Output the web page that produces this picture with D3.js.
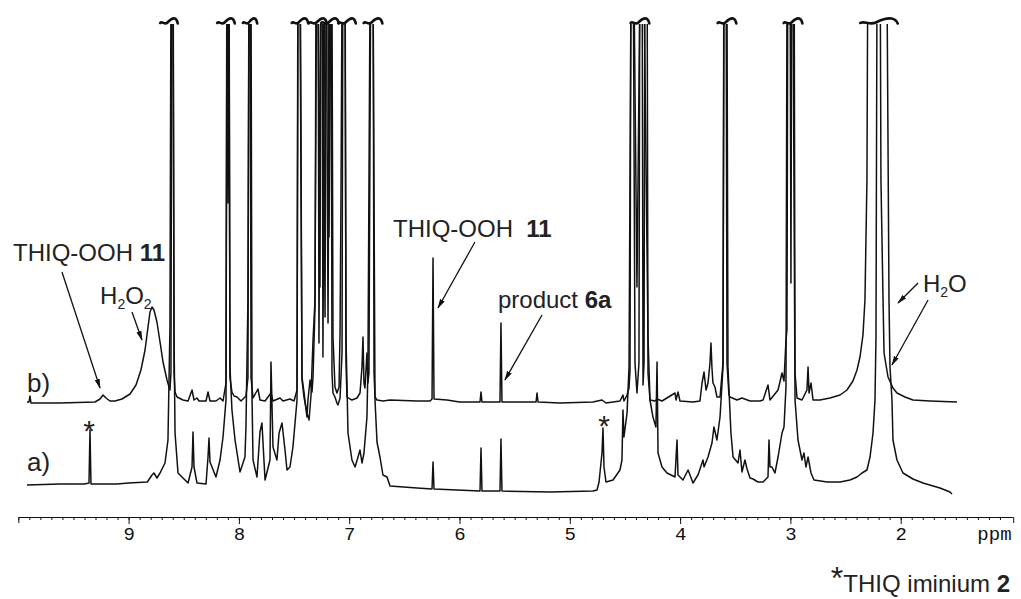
<!DOCTYPE html>
<html>
<head>
<meta charset="utf-8">
<script src="https://cdn.jsdelivr.net/npm/d3@7"></script>
<style>
body { margin: 0; background: #fff; }
svg { display: block; }
text { font-family: "Liberation Sans", Arial, sans-serif; fill: #222; }
.axis text { font-family: "Liberation Mono", "Courier New", monospace; font-size: 19px; fill: #111; }
</style>
</head>
<body>
<svg id="chart" width="1021" height="599"></svg>
<script>
const width = 1021, height = 599

// spectrum b) (upper trace): [ppm, intensity above its own baseline]
const traceB = [[9.921,1],[9.903,1],[9.894,7],[9.885,0],[9.622,0],[9.305,1],[9.259,4],[9.232,8],[9.205,5],[9.169,2],[9.123,2],[9.060,4],[8.987,9],[8.933,18],[8.888,33],[8.851,53],[8.824,76],[8.806,91],[8.788,96],[8.770,93],[8.743,81],[8.715,61],[8.688,41],[8.652,23],[8.625,13],[8.616,30],[8.607,500],[8.597,500],[8.588,30],[8.579,11],[8.561,6],[8.507,3],[8.461,2],[8.425,13],[8.407,3],[8.380,5],[8.362,2],[8.298,2],[8.280,11],[8.262,2],[8.208,2],[8.171,5],[8.144,2],[8.117,20],[8.108,500],[8.099,200],[8.090,500],[8.081,25],[8.063,11],[8.044,7],[8.017,6],[7.981,2],[7.936,7],[7.918,25],[7.908,500],[7.899,500],[7.890,25],[7.872,5],[7.827,14],[7.809,3],[7.763,2],[7.709,10],[7.691,2],[7.627,5],[7.600,2],[7.537,4],[7.500,2],[7.473,13],[7.464,500],[7.446,500],[7.428,23],[7.410,6],[7.383,-10],[7.364,-17],[7.346,8],[7.328,63],[7.310,103],[7.292,500],[7.283,500],[7.274,60],[7.256,500],[7.247,500],[7.238,46],[7.219,500],[7.210,500],[7.192,80],[7.174,500],[7.165,500],[7.156,30],[7.147,10],[7.129,6],[7.111,0],[7.102,-2],[7.083,5],[7.065,50],[7.056,500],[7.038,500],[7.029,40],[7.020,6],[6.993,4],[6.975,3],[6.929,5],[6.902,10],[6.884,36],[6.875,66],[6.866,20],[6.857,15],[6.839,50],[6.830,20],[6.821,30],[6.802,500],[6.784,500],[6.775,30],[6.766,6],[6.748,3],[6.694,2],[6.630,3],[6.385,2],[6.267,2],[6.249,4],[6.240,145],[6.231,4],[6.113,3],[6.000,1],[5.814,1],[5.805,11],[5.796,1],[5.633,1],[5.624,80],[5.615,1],[5.306,1],[5.297,10],[5.288,1],[5.089,0],[4.790,1],[4.708,3],[4.672,0],[4.545,2],[4.518,8],[4.509,2],[4.481,8],[4.463,15],[4.454,33],[4.445,500],[4.427,500],[4.409,40],[4.391,10],[4.373,40],[4.364,500],[4.345,500],[4.336,18],[4.327,40],[4.318,500],[4.300,500],[4.291,30],[4.273,3],[4.228,2],[4.209,4],[4.164,2],[4.046,10],[4.037,3],[4.019,11],[4.001,2],[3.883,1],[3.820,2],[3.801,20],[3.783,31],[3.765,13],[3.747,20],[3.729,40],[3.720,60],[3.711,35],[3.702,20],[3.684,16],[3.666,6],[3.638,6],[3.611,40],[3.602,500],[3.584,500],[3.575,40],[3.557,8],[3.548,6],[3.484,3],[3.439,5],[3.366,2],[3.276,2],[3.248,3],[3.203,18],[3.185,3],[3.112,13],[3.076,30],[3.058,22],[3.040,63],[3.031,73],[3.022,500],[3.004,500],[2.995,120],[2.986,500],[2.967,500],[2.958,30],[2.940,5],[2.895,3],[2.850,13],[2.840,36],[2.831,10],[2.813,20],[2.795,3],[2.732,3],[2.641,5],[2.550,8],[2.487,13],[2.433,22],[2.396,33],[2.369,46],[2.342,68],[2.324,103],[2.306,223],[2.296,500],[2.188,500],[2.179,223],[2.160,103],[2.151,50],[2.115,26],[2.070,15],[2.034,10],[1.961,6],[1.889,3],[1.734,2],[1.490,1]]

// spectrum a) (lower trace)
const traceA = [[9.921,2],[9.622,3],[9.400,3],[9.359,4],[9.350,57],[9.341,3],[9.105,3],[9.000,4],[8.830,5],[8.788,12],[8.770,14],[8.743,9],[8.715,14],[8.670,24],[8.643,47],[8.625,160],[8.616,500],[8.597,500],[8.588,150],[8.579,54],[8.552,14],[8.507,9],[8.461,4],[8.425,20],[8.416,55],[8.407,20],[8.380,4],[8.298,3],[8.280,30],[8.271,49],[8.262,25],[8.208,10],[8.171,27],[8.144,50],[8.117,87],[8.108,500],[8.090,500],[8.081,120],[8.063,77],[8.035,47],[7.990,15],[7.945,30],[7.936,60],[7.918,187],[7.908,500],[7.890,500],[7.881,90],[7.872,27],[7.836,10],[7.809,55],[7.791,64],[7.763,7],[7.718,27],[7.709,125],[7.691,40],[7.655,27],[7.636,54],[7.609,64],[7.582,37],[7.564,17],[7.537,20],[7.510,40],[7.473,87],[7.464,500],[7.446,500],[7.428,110],[7.410,95],[7.383,70],[7.374,87],[7.355,107],[7.337,95],[7.328,110],[7.310,180],[7.301,500],[7.283,500],[7.265,200],[7.256,500],[7.238,500],[7.219,170],[7.210,500],[7.192,500],[7.183,250],[7.165,500],[7.156,500],[7.147,150],[7.129,100],[7.111,94],[7.092,100],[7.083,154],[7.074,300],[7.065,500],[7.038,500],[7.029,150],[7.011,54],[6.975,27],[6.947,20],[6.920,30],[6.902,37],[6.884,24],[6.866,34],[6.839,70],[6.830,120],[6.811,500],[6.784,500],[6.766,87],[6.748,45],[6.721,30],[6.694,12],[6.657,10],[6.630,1],[6.385,-1],[6.249,-2],[6.240,25],[6.231,-2],[5.814,-4],[5.805,39],[5.796,-4],[5.633,-4],[5.624,48],[5.615,-4],[5.180,-5],[4.790,-4],[4.753,-3],[4.735,5],[4.708,34],[4.699,59],[4.690,20],[4.672,5],[4.608,7],[4.545,17],[4.527,27],[4.518,77],[4.509,50],[4.481,74],[4.463,120],[4.445,500],[4.418,500],[4.391,200],[4.364,500],[4.327,500],[4.291,150],[4.273,87],[4.246,70],[4.219,60],[4.209,125],[4.200,34],[4.164,20],[4.119,14],[4.046,10],[4.028,47],[4.019,12],[3.974,7],[3.928,17],[3.910,12],[3.883,4],[3.838,12],[3.792,27],[3.783,20],[3.747,30],[3.711,44],[3.693,60],[3.666,47],[3.638,70],[3.611,120],[3.602,500],[3.575,500],[3.566,120],[3.539,54],[3.520,30],[3.475,24],[3.457,37],[3.439,15],[3.412,27],[3.393,18],[3.366,9],[3.339,8],[3.294,5],[3.248,5],[3.203,10],[3.194,47],[3.185,20],[3.167,20],[3.140,14],[3.112,30],[3.076,54],[3.058,60],[3.040,100],[3.031,500],[2.976,500],[2.958,87],[2.931,47],[2.895,27],[2.877,34],[2.859,20],[2.840,30],[2.813,14],[2.786,7],[2.668,5],[2.550,5],[2.460,7],[2.396,10],[2.351,14],[2.306,17],[2.278,30],[2.251,54],[2.233,87],[2.224,150],[2.215,500],[2.124,500],[2.106,187],[2.097,120],[2.079,87],[2.070,47],[2.034,27],[1.979,14],[1.889,8],[1.798,4],[1.644,-1],[1.553,-5],[1.535,-7]]

// vertical offset of each trace (intensity units)
const baseA = 13
const baseB = 97

// peaks cut off at the top: centre ppm and width of the break mark (ppm)
const breakPpm  = [8.634, 8.117, 7.899, 7.446, 7.283, 7.174, 7.020, 6.784, 4.364, 3.575, 2.976, 2.197]
const breakSpan = [0.16, 0.16, 0.13, 0.15, 0.16, 0.16, 0.16, 0.17, 0.17, 0.17, 0.17, 0.34]

const majorTicks = [9, 8, 7, 6, 5, 4, 3, 2]
const minorTicks = d3.range(100, 10, -1).map(d => d / 10)

// annotations: [ppm, level]
const arrows = [
  [[9.604, 228], [9.259, 112]],
  [[8.969, 188], [8.879, 160]],
  [[5.860, 258], [6.195, 192]],
  [[5.252, 185], [5.588, 120]],
  [[1.843, 217], [2.024, 197]],
  [[1.752, 200], [2.079, 135]]
]
const stars = [[9.359, 59], [4.690, 64]]

const x = d3.scaleLinear().domain([10, 0.98]).range([18.3, 1013.2])
const y = d3.scaleLinear().domain([0, 480]).range([500, 20])

const svg = d3.select('#chart')
const defs = svg.append('defs')
defs.append('clipPath').attr('id', 'cut')
  .append('rect').attr('x', 0).attr('y', 24).attr('width', width).attr('height', height - 24)
defs.append('marker').attr('id', 'head')
  .attr('viewBox', '0 0 10 6').attr('refX', 9).attr('refY', 3)
  .attr('markerWidth', 10).attr('markerHeight', 6)
  .attr('markerUnits', 'userSpaceOnUse').attr('orient', 'auto')
  .append('path').attr('d', 'M0,0.4 L10,3 L0,5.6 Z').attr('fill', '#111')

// traces
const spectra = [{data: traceA, base: baseA}, {data: traceB, base: baseB}]
svg.append('g').attr('clip-path', 'url(#cut)')
  .selectAll('path').data(spectra).join('path')
  .attr('d', s => d3.line().x(d => x(d[0])).y(d => y(d[1] + s.base))(s.data))
  .attr('fill', 'none').attr('stroke', '#111').attr('stroke-width', 1.5)
  .attr('stroke-linejoin', 'round')

// break marks on the cut peaks
const tilde = w => {
  const k = w / 18
  return `M${-9*k},1 C${-7*k},-1.5 ${-4.5*k},3.5 ${-1.5*k},0.5 C${1*k},-2 ${3*k},-4.5 ${6*k},-3.5 C${7.5*k},-3 ${8.5*k},-1 ${9*k},1.5`
}
svg.append('g').selectAll('path').data(breakPpm).join('path')
  .attr('transform', d => `translate(${x(d)},${y(478)})`)
  .attr('d', (d, i) => tilde(x(d - breakSpan[i] / 2) - x(d + breakSpan[i] / 2)))
  .attr('fill', 'none').attr('stroke', '#111').attr('stroke-width', 2.6).attr('stroke-linecap', 'round')

// axis
const axisG = svg.append('g').attr('class', 'axis').attr('transform', 'translate(0,517)')
axisG.call(d3.axisBottom(x).tickValues(minorTicks).tickSize(3).tickSizeOuter(6).tickFormat(''))
axisG.append('g')
  .call(d3.axisBottom(x).tickValues(majorTicks).tickSize(7).tickFormat(d3.format('d')))
  .call(g => g.select('.domain').remove())
axisG.selectAll('path, line').attr('stroke', '#111')
axisG.append('text').attr('x', x(1.15)).attr('y', 10).attr('dy', '0.71em')
  .attr('text-anchor', 'middle').text('ppm')

// arrows
svg.append('g').selectAll('line').data(arrows).join('line')
  .attr('x1', d => x(d[0][0])).attr('y1', d => y(d[0][1]))
  .attr('x2', d => x(d[1][0])).attr('y2', d => y(d[1][1]))
  .attr('stroke', '#111').attr('stroke-width', 1.3).attr('marker-end', 'url(#head)')

// asterisks marking iminium
svg.append('g').selectAll('text').data(stars).join('text')
  .attr('x', d => x(d[0])).attr('y', d => y(d[1]))
  .attr('text-anchor', 'middle').attr('font-size', 30).text('*')

// labels
const lab = (ppm, lvl, size) => svg.append('text').attr('x', x(ppm)).attr('y', y(lvl)).attr('font-size', size)
lab(9.921, 108, 26).text('b)')
lab(9.921, 29, 26).text('a)')

const t1 = lab(10.048, 239, 24)
t1.append('tspan').text('THIQ-OOH ')
t1.append('tspan').attr('font-weight', 'bold').text('11')

const t2 = lab(6.603, 263, 24)
t2.append('tspan').text('THIQ-OOH\u00a0 ')
t2.append('tspan').attr('font-weight', 'bold').text('11')

const t3 = lab(5.651, 192, 24)
t3.append('tspan').text('product ')
t3.append('tspan').attr('font-weight', 'bold').text('6a')

const t4 = lab(9.259, 196, 24)
t4.append('tspan').text('H')
t4.append('tspan').attr('font-size', 14).attr('dy', 5).text('2')
t4.append('tspan').attr('dy', -5).text('O')
t4.append('tspan').attr('font-size', 14).attr('dy', 5).text('2')

const t5 = lab(1.798, 208, 24)
t5.append('tspan').text('H')
t5.append('tspan').attr('font-size', 14).attr('dy', 5).text('2')
t5.append('tspan').attr('dy', -5).text('O')

const note = svg.append('text').attr('x', 1010).attr('y', 592).attr('text-anchor', 'end').attr('font-size', 24)
note.append('tspan').attr('font-size', 32).attr('dy', -3).text('*')
note.append('tspan').attr('dy', 3).text('THIQ iminium ')
note.append('tspan').attr('font-weight', 'bold').text('2')
</script>
</body>
</html>
